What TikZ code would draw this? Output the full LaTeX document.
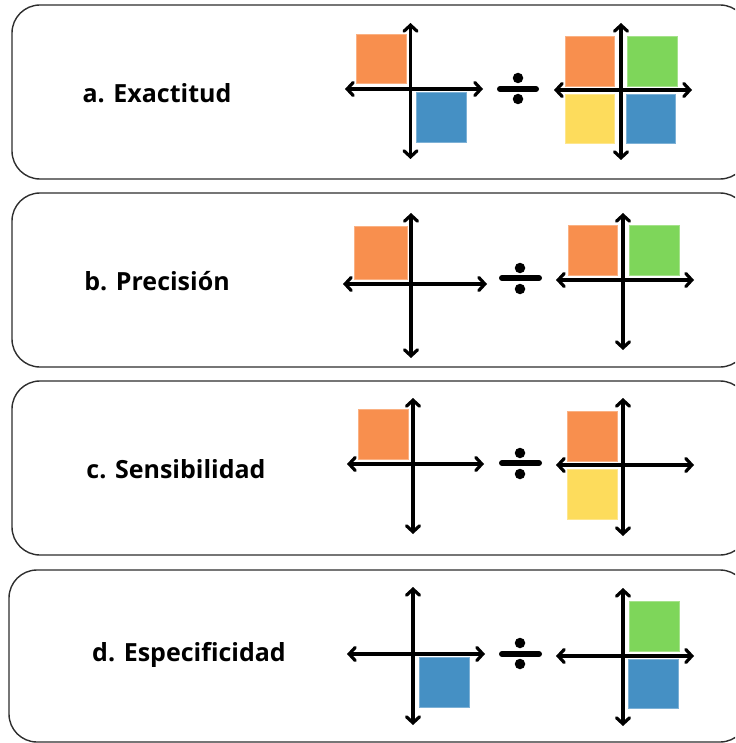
\documentclass[tikz,border=0pt]{standalone}
\usepackage{fontspec}
\setmainfont{Open Sans}
\usetikzlibrary{arrows.meta}
\definecolor{qorange}{HTML}{F88F4E}
\definecolor{qgreen}{HTML}{7ED65A}
\definecolor{qyellow}{HTML}{FDDC5C}
\definecolor{qblue}{HTML}{4590C4}
\definecolor{frame}{HTML}{2E2E2E}
\tikzset{
  panel/.style={draw=frame, line width=1.4pt, rounded corners=28pt},
  lbl/.style={font=\fontsize{25}{28}\selectfont\bfseries, inner sep=0pt},
  axis/.style={line width=3.2pt, {Straight Barb[length=6pt,width=13pt,line cap=round]}-{Straight Barb[length=6pt,width=13pt,line cap=round]}},
  sq/.style={line width=0.8pt},
  sqo/.style={sq, fill=qorange, draw=qorange!70!white},
  sqg/.style={sq, fill=qgreen, draw=qgreen!70!white},
  sqy/.style={sq, fill=qyellow, draw=qyellow!70!white},
  sqb/.style={sq, fill=qblue, draw=qblue!70!white},
  divbar/.style={line width=6pt, line cap=round},
  dot/.style={circle, fill=black, inner sep=0pt, minimum size=10.5pt},
}
\begin{document}
\begin{tikzpicture}[x=1pt, y=-1pt]
\useasboundingbox (0,0) rectangle (735,743);
\fill[white] (0,0) rectangle (735,743);
\clip (0,0) rectangle (735,743);

% ---- frames ----
\draw[panel] (12,5) rectangle (748,179);
\draw[panel] (12,193) rectangle (748,367);
\draw[panel] (12,381) rectangle (748,555);
\draw[panel] (9,570) rectangle (748,742);

% ---- labels ----
\node[lbl] (la) at (157,93) {a. Exactitud};
\node[lbl] (lb) at (157,281) {b. Precisión};
\node[lbl] (lc) at (176,469) {c. Sensibilidad};
\node[lbl] (ld) at (189,655) {d. Especificidad};

% ================= a =================
\fill[sqo] (356,34) rectangle (406,83);
\fill[sqb] (416,92) rectangle (466,142);
\draw[axis] (410.5,23) -- (410.5,159);
\draw[axis] (345,89) -- (483,89);
\draw[divbar] (500,89) -- (536,89);
\node[dot] (a1) at (518,78) {};
\node[dot] (a2) at (518,99) {};
\fill[sqo] (565,36) rectangle (614,86);
\fill[sqg] (627,36) rectangle (677,86);
\fill[sqy] (565,94) rectangle (614,143);
\fill[sqb] (626,94) rectangle (675,143);
\draw[axis] (621,23) -- (621,160);
\draw[axis] (554,90) -- (692,90);

% ================= b =================
\fill[sqo] (354,226) rectangle (407,279);
\draw[axis] (411,213) -- (411,358);
\draw[axis] (343,284) -- (487,284);
\draw[divbar] (502,278) -- (539,278);
\node[dot] (b1) at (520,268) {};
\node[dot] (b2) at (520,289) {};
\fill[sqo] (568,225) rectangle (617,275);
\fill[sqg] (629,225) rectangle (679,275);
\draw[axis] (623,213) -- (623,350);
\draw[axis] (556,280) -- (694,280);

% ================= c =================
\fill[sqo] (358,409) rectangle (408,459);
\draw[axis] (413,398) -- (413,534);
\draw[axis] (347,464) -- (484,464);
\draw[divbar] (502,463) -- (539,463);
\node[dot] (c1) at (520,453) {};
\node[dot] (c2) at (520,474) {};
\fill[sqo] (567,411) rectangle (617,461);
\fill[sqy] (567,469) rectangle (617,519);
\draw[axis] (623,398) -- (623,536);
\draw[axis] (556,465) -- (694,465);

% ================= d =================
\fill[sqb] (419,657) rectangle (469,707);
\draw[axis] (413,587) -- (413,725);
\draw[axis] (347,654) -- (485,654);
\draw[divbar] (502,654) -- (539,654);
\node[dot] (d1) at (520,643) {};
\node[dot] (d2) at (520,664) {};
\fill[sqg] (629,601) rectangle (679,651);
\fill[sqb] (628,659) rectangle (678,708);
\draw[axis] (623,588) -- (623,726);
\draw[axis] (556,656) -- (694,656);
\end{tikzpicture}
\end{document}
